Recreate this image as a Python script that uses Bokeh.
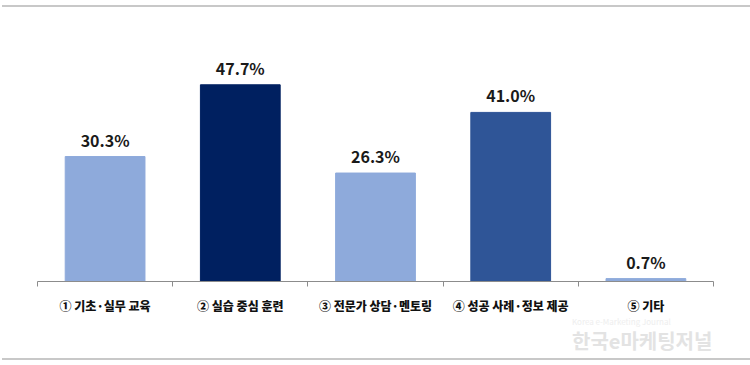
from bokeh.plotting import figure
from bokeh.models import ColumnDataSource, FixedTicker, Div, Range1d
from bokeh.layouts import column
from bokeh.embed import file_html
from bokeh.resources import INLINE
from bokeh.core.properties import value

categories = ["① 기초·실무 교육", "② 실습 중심 훈련", "③ 전문가 상담·멘토링", "④ 성공 사례·정보 제공", "⑤ 기타"]
values = [30.3, 47.7, 26.3, 41.0, 0.7]
colors = ["#8EAADB", "#002060", "#8EAADB", "#2F5597", "#8EAADB"]
labels = ["30.3%", "47.7%", "26.3%", "41.0%", "0.7%"]

FONT = "Noto Sans CJK KR"
HEAVY = "Noto Sans CJK KR Black, Noto Sans CJK KR"

xs = [i + 0.5 for i in range(len(categories))]
src = ColumnDataSource(dict(x=xs, top=values, color=colors, label=labels))

p = figure(width=750, height=310, output_backend="svg", toolbar_location=None,
           x_range=Range1d(0, 5), y_range=Range1d(0, 64.5),
           min_border_left=37, min_border_right=37, min_border_top=8, min_border_bottom=36)
p.vbar(x="x", top="top", bottom=0, width=0.59, color="color", source=src)
p.text(x="x", y="top", text="label", source=src, text_align="center",
       text_baseline="alphabetic", y_offset=-17, text_font=value(FONT),
       text_font_size="16px", text_font_style="bold", text_color="#1a1a1a")

p.yaxis.visible = False
p.grid.visible = False
p.outline_line_color = None
ax = p.xaxis[0]
ax.ticker = FixedTicker(ticks=xs, minor_ticks=[0, 1, 2, 3, 4, 5])
ax.major_label_overrides = {x: c for x, c in zip(xs, categories)}
ax.major_tick_out = 0
ax.major_tick_in = 0
ax.minor_tick_out = 5
ax.minor_tick_in = 0
ax.minor_tick_line_color = "#8c8c8c"
ax.axis_line_color = "#8c8c8c"
ax.axis_line_width = 1
ax.major_label_standoff = 10
ax.major_label_text_font = HEAVY
ax.major_label_text_font_size = "12px"
ax.major_label_text_font_style = "bold"
ax.major_label_text_color = "#111111"

top_gap = Div(width=750, height=5, margin=0)
top_line = Div(width=748, height=2, margin=(0, 0, 0, 2), styles={"background-color": "#c8c8c8"})
watermark = Div(width=750, height=41, margin=0,
                text='<div style="padding-left:572px;padding-top:0px;line-height:1;">'
                     '<div style="font-family:\'Noto Sans CJK KR\';font-size:8px;line-height:9px;color:#eeeeee;margin-bottom:4px;">Korea e-Marketing Journal</div>'
                     '<div style="font-family:\'Noto Sans CJK KR\';font-size:20px;line-height:22px;font-weight:bold;color:#e3e3e3;">한국e마케팅저널</div></div>')
bottom_line = Div(width=748, height=2, margin=(0, 0, 0, 2), styles={"background-color": "#c8c8c8"})

layout = column(top_gap, top_line, p, watermark, bottom_line, spacing=0)
open("out.html", "w").write(file_html(layout, INLINE))
